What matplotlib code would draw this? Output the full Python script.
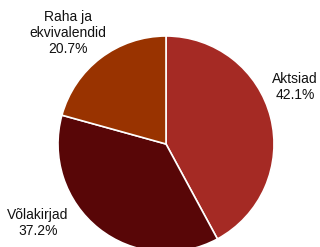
import matplotlib
matplotlib.use("Agg")
import matplotlib.pyplot as plt

categories = ["Aktsiad", "Võlakirjad", "Raha ja\nekvivalendid"]
values = [42.1, 37.2, 20.7]
colors = ["#A52A24", "#580607", "#993300"]

plt.rcParams['font.family'] = ['Liberation Sans', 'DejaVu Sans']

fig = plt.figure(figsize=(3.2, 2.47), dpi=100)
ax = fig.add_axes([0, 0, 1, 1])
R = 108.0
ax.pie(values, colors=colors, startangle=90, counterclock=False,
       radius=1.0, center=(0, 0),
       wedgeprops=dict(edgecolor="white", linewidth=1.2))
ax.set_xlim(-166 / R, (320 - 166) / R)
ax.set_ylim(-103 / R, 144 / R)
ax.set_aspect('auto')
ax.axis('off')

label_pos = [(129, 57), (-128, -79), (-98, 111)]
for cat, v, (dx, dy) in zip(categories, values, label_pos):
    ax.text(dx / R, dy / R, f"{cat}\n{v:.1f}%", ha='center', va='center',
            fontsize=10, linespacing=1.15, color='#111111')

fig.savefig("out.png", dpi=100)
